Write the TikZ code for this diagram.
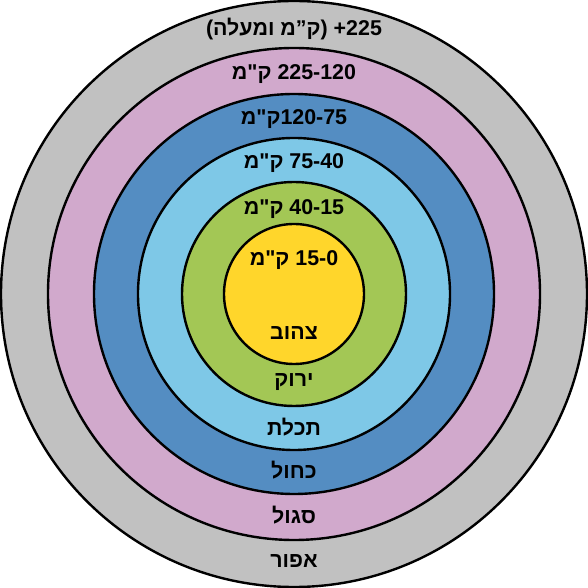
\documentclass[tikz,border=0pt]{standalone}
\usepackage{fontspec}
\TeXXeTstate=1
\newfontfamily\hebfont[Script=Hebrew,Ligatures=TeXOff]{Liberation Sans}
\definecolor{ringgrey}{HTML}{C1C1C1}
\definecolor{ringpink}{HTML}{D1A9CC}
\definecolor{ringblue}{HTML}{548DC2}
\definecolor{ringsky}{HTML}{7EC8E7}
\definecolor{ringgreen}{HTML}{A3C755}
\definecolor{ringyellow}{HTML}{FFD62B}

\begin{document}
\begin{tikzpicture}[x=0.5pt,y=0.5pt,
    ring/.style={draw=black,line width=1.2pt},
    ringlabel/.style={font=\hebfont\bfseries\fontsize{10.7}{12}\selectfont,inner sep=0pt}]
  \useasboundingbox (-294,-294) rectangle (294,294);
  % rings, outermost first
  \filldraw[ring,fill=ringgrey] (0,0) circle (293);
  \filldraw[ring,fill=ringpink] (0,0) circle (246);
  \filldraw[ring,fill=ringblue] (0,0) circle (200);
  \filldraw[ring,fill=ringsky] (0,0) circle (156);
  \filldraw[ring,fill=ringgreen] (0,0) circle (112);
  \filldraw[ring,fill=ringyellow] (0,0) circle (70);
  % distances
  \node[ringlabel] (distGrey) at (0,265) {\beginR\beginL 225+\endL{} (ק”מ ומעלה)\endR};
  \node[ringlabel] (distPink) at (0,220) {\beginR\beginL 225-120\endL{} ק"מ\endR};
  \node[ringlabel] (distBlue) at (0,175) {\beginR\beginL 120-75\endL{}ק"מ\endR};
  \node[ringlabel] (distSky) at (0,131) {\beginR\beginL 75-40\endL{} ק"מ\endR};
  \node[ringlabel] (distGreen) at (0,85) {\beginR\beginL 40-15\endL{} ק"מ\endR};
  \node[ringlabel] (distYellow) at (0,34) {\beginR\beginL 15-0\endL{} ק"מ\endR};
  % colour names
  \node[ringlabel] (nameYellow) at (0,-39) {\beginR צהוב\endR};
  \node[ringlabel] (nameGreen) at (0,-88) {\beginR ירוק\endR};
  \node[ringlabel] (nameSky) at (0,-133) {\beginR תכלת\endR};
  \node[ringlabel] (nameBlue) at (0,-176) {\beginR כחול\endR};
  \node[ringlabel] (namePink) at (0,-221) {\beginR סגול\endR};
  \node[ringlabel] (nameGrey) at (0,-267) {\beginR אפור\endR};
\end{tikzpicture}
\end{document}
